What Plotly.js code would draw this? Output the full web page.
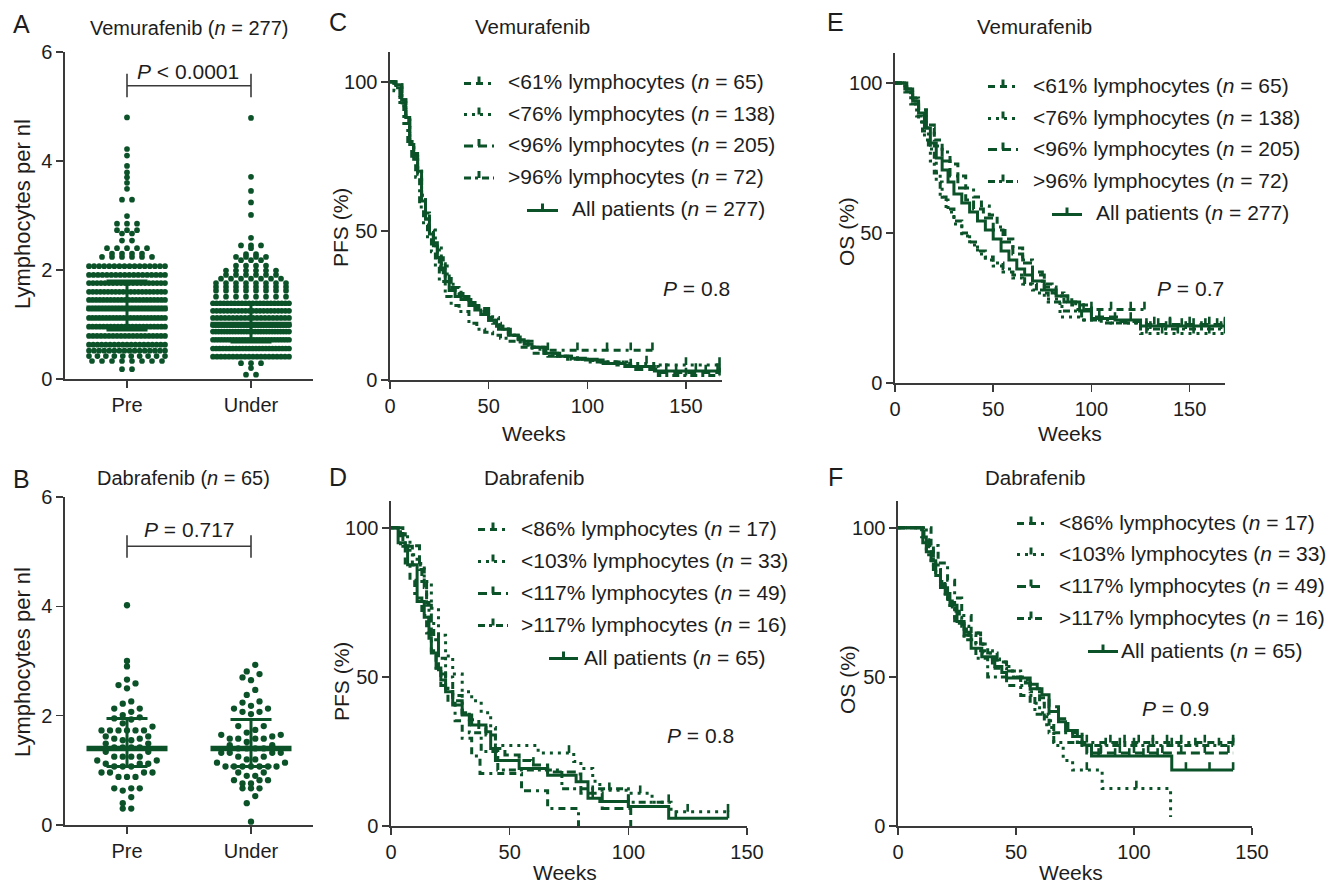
<!DOCTYPE html>
<html><head><meta charset="utf-8">
<script src="https://cdn.plot.ly/plotly-3.0.1.min.js"></script>
<style>html,body{margin:0;padding:0;background:#fff}#chart{width:1330px;height:885px}</style>
</head><body><div id="chart"></div>
<script>
// ---------------- DATA ----------------
const groups = ['Pre', 'Under'];

// Panel A: Vemurafenib (n = 277) – lymphocytes per nl, read as row levels and dot counts
const vemPreLevels  = [4.80,4.22,4.10,3.91,3.79,3.70,3.60,3.49,3.29,2.99,2.85,2.73,2.67,2.54,2.40,2.30,2.24,
                       2.07,1.91,1.76,1.60,1.45,1.29,1.12,0.96,0.79,0.63,0.52,0.42,0.33,0.18];
const vemPreCounts  = [1,1,1,1,1,1,1,1,2,1,3,3,2,2,5,4,6,
                       16,18,20,21,22,24,23,22,20,19,16,10,8,2];
const vemUnderLevels = [4.79,3.71,3.45,3.24,3.01,2.59,2.45,2.40,2.29,2.24,2.18,2.08,1.99,
                        1.91,1.84,1.76,1.69,1.62,1.51,1.39,1.25,1.12,0.99,0.87,0.72,0.56,0.41,0.29,0.20,0.08];
const vemUnderCounts = [1,1,1,1,1,1,3,1,2,4,3,4,6,
                        6,7,8,8,8,8,22,22,20,34,28,27,24,20,3,1,2];
const vemMedian = [1.30, 1.00], vemQ1 = [0.90, 0.68], vemQ3 = [1.80, 1.38];

// Panel B: Dabrafenib (n = 65)
const dabPre = [4.02,3.00,2.90,2.66,2.59,2.56,2.50,2.26,2.22,2.13,2.13,2.07,2.01,1.97,1.95,1.93,1.86,1.80,
                1.73,1.73,1.73,1.73,1.73,1.73,1.62,1.62,1.58,1.58,1.55,1.55,1.49,1.49,1.42,1.42,1.42,1.42,
                1.34,1.34,1.25,1.25,1.25,1.25,1.18,1.18,1.12,1.12,1.12,1.07,1.07,1.07,0.96,0.96,0.96,0.96,
                0.88,0.88,0.88,0.67,0.67,0.67,0.63,0.51,0.40,0.30,0.30];
const dabUnder = [2.93,2.81,2.76,2.70,2.65,2.47,2.38,2.26,2.24,2.18,2.13,2.13,2.07,2.07,2.03,1.81,1.81,1.74,
                  1.69,1.65,1.65,1.62,1.58,1.58,1.58,1.58,1.52,1.46,1.46,1.40,1.40,1.40,1.40,1.32,1.32,1.32,
                  1.32,1.25,1.25,1.20,1.20,1.14,1.14,1.07,1.07,1.07,1.07,1.07,1.07,1.07,0.96,0.96,0.90,0.90,
                  0.82,0.82,0.82,0.76,0.76,0.67,0.67,0.67,0.53,0.40,0.06];
const dabMedian = [1.40, 1.40], dabQ1 = [1.07, 1.07], dabQ3 = [1.95, 1.93];

// Panel C: Vemurafenib PFS (%) vs weeks
const cAllT = [0,3,6,8,10,12,14,16,18,20,22,24,26,28,30,33,36,40,43,46,50,54,57,61,65,68,72,79,85,92,99,108,119,134,167];
const cAllS = [100,99,94,88,79,75,70,60,54,49,46,41,37,33,30,28,27,25,23.5,22,20,18,17,15,13.5,12,11,9,8,7.3,6.7,5.5,4.5,3,3];
const cAllC = [122,140,155,166];
const c61T = [0,2,5,8,10,12,14,16,18,20,22,25,28,31,35,40,45,50,55,60,66,72,78,133];
const c61S = [100,98,93,86,80,76,71,62,55,50,45,39,34,31,28,26,24,21,18,15,13,11,10,10];
const c61C = [80,95,110,122,133];
const c76T = [0,3,6,8,10,12,14,16,18,20,23,26,29,32,36,40,44,48,52,56,60,65,70,76,84,92,100,110,120,135,167];
const c76S = [100,98,93,87,80,75,70,62,56,51,45,39,34,31,28,26,24,22,19,17,15,13,11,9,8,7,6.5,6,5.5,5,5];
const c76C = [130,150,167];
const c96T = [0,3,6,8,10,12,14,16,18,20,22,24,27,30,33,37,41,45,50,55,60,65,70,78,86,95,105,115,122,136,167];
const c96S = [100,99,94,88,79,74,69,60,54,49,46,41,36,31,29,27,25,23,20,17,15,13,11,9,8,7,6,5,3.5,2.5,2.5];
const c96C = [145,160,167];
const cGtT = [0,2,5,7,9,11,13,15,17,19,21,23,25,28,31,35,40,44,48,52,56,60,66,72,80,90,100,120,136,167];
const cGtS = [100,97,92,86,80,75,68,58,52,47,43,38,33,28,25,23,19,17,16,15,14,13,11,9,8,7,6,4.5,1.5,1.5];
const cGtC = [150,167];

// Panel D: Dabrafenib PFS (%)
const dAllT = [0,3,6,7,11,14,16,17,19,21,23,26,30,34,40,42,44,54,66,78,83,88,100,117,142];
const dAllS = [100,95,93.8,87.6,75.3,70,63,58,53,49,45,40.6,37.2,33.9,31.6,26,22,19.3,17,14.8,9.3,8.2,6.5,2.6,2.6];
const dAllC = [85,100,120,142];
const d86T = [0,4,6,8,10,13,15,17,19,21,24,27,30,34,37.5,55,66,79];
const d86S = [100,94.1,88.2,82.4,76.5,70.6,64.7,58.8,52.9,47.1,41.2,35.3,29.4,23.5,17.6,11.8,5.9,0];
const d86C = [];
const d103T = [0,5,8,11,14,17,20,23,26,30,34,38,42,44,62,77,80,85,88,100,110,118,142];
const d103S = [100,97,91,88,82,73,64,57,51,45,42,38,33,27,24.5,21.6,19.3,15,12,11,8,4.8,4.8];
const d103C = [75,92,105,125,142];
const d117T = [0,3,6,12,14,15,17,20,23,26,30,33,37,40,44,48,54,59,66,78,80,89,101];
const d117S = [100,98,94,86,80,74,64,51,46,42,38,35.6,33,30.5,26,23.8,22,20.5,18.1,17.4,11,5.9,0];
const d117C = [60,85];
const dGtT = [0,5,9,13,15,16,18,20,23,26,30,33,38,45,72,100,117];
const dGtS = [100,93.8,87.5,81.3,75,68.8,62.5,56.3,50,43.8,37.5,31.3,25,18.8,12.5,8,8];
const dGtC = [100,117];

// Panel E: Vemurafenib OS (%)
const eAllT = [0,6,9,12,15,18,21,24,27,30,34,38,42,46,50,54,58,62,66,70,76,82,88,94,100,112,125,168];
const eAllS = [100,98,94,90,85,80,75,71,67,63,60,57,54,51,48,44,41,38,36,34,31,29,27,24,21.5,21,19,19];
const eAllC = [96,104,112,120,128,134,140,146,152,158,164,168];
const e61T = [0,5,8,12,16,20,24,28,32,36,40,44,48,52,56,60,65,70,75,80,86,92,127];
const e61S = [100,98,95,91,86,81,77,73,69,65,62,59,56,52,48,45,41,37,33,30,27,24.5,24.5];
const e61C = [100,110,120,127];
const e76T = [0,6,9,12,15,18,21,24,27,30,34,38,42,46,50,55,60,65,70,76,84,95,110,125,168];
const e76S = [100,97,93,87,81,74,67,61,57,53,49,46,43,41,39,37,35,33,31,28,22,21,20,16.5,16.5];
const e76C = [128,136,144,152,160,168];
const e96T = [0,6,9,12,16,20,24,28,32,36,40,45,50,55,60,65,70,76,82,90,100,115,128,168];
const e96S = [100,98,95,91,85,79,74,69,65,61,58,55,51,47,43,40,36,32,29,26,22,20.5,19.5,19.5];
const e96C = [132,140,150,160,168];
const eGtT = [0,5,8,11,14,17,20,23,26,30,34,38,42,46,50,55,60,66,72,78,85,95,105,125,168];
const eGtS = [100,97,93,89,84,78,70,62,58,54,50,47,44,42,40,38,36,33,30,27,24,21,20,18,18];
const eGtC = [130,138,148,156,166];

// Panel F: Dabrafenib OS (%)
const fAllT = [0,10.5,12,14,16,18,20,22,25,28,31,35.5,41,44,46,56,59,61,64,68,71,74,78,82,116,142];
const fAllS = [100,95,92,89,84,81,78,74,68.6,64,59.6,56.8,53.5,51.5,49.6,47.5,46,44,38.4,35,32,30,27.2,23.5,18.8,18.8];
const fAllC = [85,92,98,104,110,122,132,142];
const f86T = [0,14,17,21,24,27,31,35,40,46,56,62,66,142];
const f86S = [100,94.1,88.2,82.4,76.5,70.6,64.7,58.8,52.9,47.1,41.2,35.3,28,28];
const f86C = [80,90,96,102,108,114,120,130,142];
const f103T = [0,10,12,14,16,18,20,22,24,27,30,33,36,40,43,47,52,56,60,63,66,70,74,86.5,115.5];
const f103S = [100,97,91,88,85,82,76,73,70,67,64,61,58,56,55,52,49,45,38,33,27,22,18.8,12.6,3];
const f103C = [80,101];
const f117T = [0,11,13,15,18,21,23,26,29,32,35,38,42,46,50,54,57,60,64,68,72,76,80,142];
const f117S = [100,96,92,86,80,76,72,68,65,64.7,61,58,55,52,50,48,46,43,40,36,32,28,24.5,24.5];
const f117C = [86,94,100,106,112,120,130,140];
const fGtT = [0,12,15,18,21,24,28,33,38,52,58,64,78,142];
const fGtS = [100,93.8,87.5,81.3,75,68.8,62.5,56.3,50,43.8,37.5,31.3,27,27];
const fGtC = [88,94,100,108,116,126,136,142];

// Legend labels
const vemLabels = ['&lt;61% lymphocytes (<i>n</i> = 65)', '&lt;76% lymphocytes (<i>n</i> = 138)',
                   '&lt;96% lymphocytes (<i>n</i> = 205)', '&gt;96% lymphocytes (<i>n</i> = 72)',
                   'All patients (<i>n</i> = 277)'];
const dabLabels = ['&lt;86% lymphocytes (<i>n</i> = 17)', '&lt;103% lymphocytes (<i>n</i> = 33)',
                   '&lt;117% lymphocytes (<i>n</i> = 49)', '&gt;117% lymphocytes (<i>n</i> = 16)',
                   'All patients (<i>n</i> = 65)'];

// ---------------- STYLE ----------------
const W = 1330, H = 885;
const GREEN = '#0b5229';
const INK = '#1d1d1d';
const AXC = '#3a3a3a';
const FONT = '"Liberation Sans", Arial, Helvetica, sans-serif';
const px = v => v / W;
const py = v => 1 - v / H;
const DASHES = ['7px,5px,7px,5px,3px,5px', '3px,5px', '9px,5px', '7px,4px,3px,4px', 'solid'];
const LW = 3;

// ---------------- HELPERS ----------------
function expand(levels, counts) {
  const out = [];
  levels.forEach((v, i) => { for (let k = 0; k < counts[i]; k++) out.push(v); });
  return out;
}
function swarm(values, keyFn, center, spacingPx, maxSpanPx, pxPerUnit) {
  const sorted = values.slice().sort((a, b) => a - b);
  const bins = new Map();
  sorted.forEach(v => { const k = keyFn(v); if (!bins.has(k)) bins.set(k, []); bins.get(k).push(v); });
  const xs = [], ys = [];
  bins.forEach(arr => {
    const n = arr.length;
    const s = n > 1 ? Math.min(spacingPx, maxSpanPx / (n - 1)) : 0;
    const slots = [];
    for (let i = 0; i < n; i++) slots.push(i - (n - 1) / 2);
    slots.sort((a, b) => Math.abs(a) - Math.abs(b) || a - b);
    arr.forEach((v, j) => { xs.push(center + slots[j] * s / pxPerUnit); ys.push(v); });
  });
  return { xs, ys };
}
function stepAt(T, S, t) {
  let v = S[0];
  for (let i = 0; i < T.length; i++) { if (T[i] <= t) v = S[i]; }
  return v;
}

const traces = [];
const PXU = 124; // px per category unit in panels A/B

function dotPanel(pre, under, keyFn, spacing, dot, med, q1, q3, xa, ya) {
  [pre, under].forEach((vals, gi) => {
    const s = swarm(vals, keyFn, gi, spacing, 76, PXU);
    traces.push({ type: 'scatter', mode: 'markers', x: s.xs, y: s.ys, xaxis: xa, yaxis: ya,
      marker: { size: dot, color: GREEN, line: { width: 0 } }, hoverinfo: 'skip', cliponaxis: false });
  });
  const mx = [], my = [], ex = [], ey = [];
  const hw = 40.5 / PXU, cw = 20.5 / PXU;
  med.forEach((m, i) => {
    mx.push(i - hw, i + hw, null); my.push(m, m, null);
    ex.push(i, i, null); ey.push(q1[i], q3[i], null);
    ex.push(i - cw, i + cw, null); ey.push(q1[i], q1[i], null);
    ex.push(i - cw, i + cw, null); ey.push(q3[i], q3[i], null);
  });
  traces.push({ type: 'scatter', mode: 'lines', x: ex, y: ey, xaxis: xa, yaxis: ya,
    line: { color: GREEN, width: 3 }, hoverinfo: 'skip' });
  traces.push({ type: 'scatter', mode: 'lines', x: mx, y: my, xaxis: xa, yaxis: ya,
    line: { color: GREEN, width: 5.5 }, hoverinfo: 'skip' });
}

dotPanel(expand(vemPreLevels, vemPreCounts), expand(vemUnderLevels, vemUnderCounts),
         v => v.toFixed(2), 10, 5.7, vemMedian, vemQ1, vemQ3, 'x', 'y');
dotPanel(dabPre, dabUnder, v => Math.round(v / 0.16), 8.5, 6.3, dabMedian, dabQ1, dabQ3, 'x2', 'y2');

function kmPanel(curves, xa, ya) {
  curves.forEach((c, i) => {
    traces.push({ type: 'scatter', mode: 'lines', x: c[0], y: c[1], xaxis: xa, yaxis: ya,
      line: { shape: 'hv', color: GREEN, width: LW, dash: DASHES[i] }, hoverinfo: 'skip' });
    const cx = [], cy = [];
    c[2].forEach(t => { const s = stepAt(c[0], c[1], t); cx.push(t, t, null); cy.push(s, s + 2.6, null); });
    if (cx.length) traces.push({ type: 'scatter', mode: 'lines', x: cx, y: cy, xaxis: xa, yaxis: ya,
      line: { color: GREEN, width: 2.6 }, hoverinfo: 'skip' });
  });
}
kmPanel([[c61T, c61S, c61C], [c76T, c76S, c76C], [c96T, c96S, c96C], [cGtT, cGtS, cGtC], [cAllT, cAllS, cAllC]], 'x3', 'y3');
kmPanel([[d86T, d86S, d86C], [d103T, d103S, d103C], [d117T, d117S, d117C], [dGtT, dGtS, dGtC], [dAllT, dAllS, dAllC]], 'x4', 'y4');
kmPanel([[e61T, e61S, e61C], [e76T, e76S, e76C], [e96T, e96S, e96C], [eGtT, eGtS, eGtC], [eAllT, eAllS, eAllC]], 'x5', 'y5');
kmPanel([[f86T, f86S, f86C], [f103T, f103S, f103C], [f117T, f117S, f117C], [fGtT, fGtS, fGtC], [fAllT, fAllS, fAllC]], 'x6', 'y6');

// ---------------- LAYOUT ----------------
const axBase = {
  showline: true, linecolor: AXC, linewidth: 1.6, ticks: 'outside', ticklen: 7, tickwidth: 1.6,
  tickcolor: AXC, showgrid: false, zeroline: false, fixedrange: true,
  tickfont: { family: FONT, size: 20, color: INK }
};
const ax = (o) => Object.assign({}, axBase, o);

const layout = {
  width: W, height: H, margin: { l: 0, r: 0, t: 0, b: 0 },
  paper_bgcolor: '#fff', plot_bgcolor: 'rgba(0,0,0,0)', showlegend: false,
  font: { family: FONT, color: INK },
  xaxis:  ax({ domain: [px(65), px(313)], range: [-0.5, 1.5], tickvals: [0, 1], ticktext: groups, anchor: 'y' }),
  yaxis:  ax({ domain: [py(379), py(52)], range: [0, 6], tickvals: [0, 2, 4, 6], anchor: 'x' }),
  xaxis2: ax({ domain: [px(65), px(313)], range: [-0.5, 1.5], tickvals: [0, 1], ticktext: groups, anchor: 'y2' }),
  yaxis2: ax({ domain: [py(825), py(497)], range: [0, 6], tickvals: [0, 2, 4, 6], anchor: 'x2' }),
  xaxis3: ax({ domain: [px(390), px(721.5)], range: [0, 168], tickvals: [0, 50, 100, 150], anchor: 'y3' }),
  yaxis3: ax({ domain: [py(380), py(52)], range: [0, 110], tickvals: [0, 50, 100], anchor: 'x3' }),
  xaxis4: ax({ domain: [px(391), px(747)], range: [0, 150], tickvals: [0, 50, 100, 150], anchor: 'y4' }),
  yaxis4: ax({ domain: [py(826), py(501)], range: [0, 109], tickvals: [0, 50, 100], anchor: 'x4' }),
  xaxis5: ax({ domain: [px(895), px(1225)], range: [0, 168], tickvals: [0, 50, 100, 150], anchor: 'y5' }),
  yaxis5: ax({ domain: [py(383), py(53)], range: [0, 110], tickvals: [0, 50, 100], anchor: 'x5' }),
  xaxis6: ax({ domain: [px(898), px(1252)], range: [0, 150], tickvals: [0, 50, 100, 150], anchor: 'y6' }),
  yaxis6: ax({ domain: [py(826), py(501)], range: [0, 109], tickvals: [0, 50, 100], anchor: 'x6' }),
  shapes: [], annotations: []
};

function ann(text, x, y, o) {
  layout.annotations.push(Object.assign({
    text, x: px(x), y: py(y), xref: 'paper', yref: 'paper', showarrow: false,
    xanchor: 'center', yanchor: 'middle', font: { family: FONT, size: 21, color: INK }
  }, o || {}));
}
function seg(x0, y0, x1, y1, o) {
  layout.shapes.push(Object.assign({ type: 'line', xref: 'paper', yref: 'paper',
    x0: px(x0), y0: py(y0), x1: px(x1), y1: py(y1), line: { color: GREEN, width: 3 } }, o || {}));
}

// Panel letters
[['A', 21, 24], ['B', 21, 479], ['C', 338, 22], ['D', 338, 477], ['E', 835, 22], ['F', 835, 477]]
  .forEach(l => ann(l[0], l[1], l[2], { font: { family: FONT, size: 25, color: INK } }));

// Titles
ann('Vemurafenib (<i>n</i> = 277)', 189, 28, { font: { family: FONT, size: 20, color: INK } });
ann('Dabrafenib (<i>n</i> = 65)', 183, 478, { font: { family: FONT, size: 20, color: INK } });
ann('Vemurafenib', 532, 27, { font: { family: FONT, size: 20.5, color: INK } });
ann('Dabrafenib', 534, 477, { font: { family: FONT, size: 20.5, color: INK } });
ann('Vemurafenib', 1034, 27, { font: { family: FONT, size: 20.5, color: INK } });
ann('Dabrafenib', 1035, 477, { font: { family: FONT, size: 20.5, color: INK } });

// Axis titles
ann('Lymphocytes per nl', 22, 214, { textangle: -90, font: { family: FONT, size: 22, color: INK } });
ann('Lymphocytes per nl', 22, 662, { textangle: -90, font: { family: FONT, size: 22, color: INK } });
ann('PFS (%)', 341, 228, { textangle: -90 });
ann('PFS (%)', 341, 682, { textangle: -90 });
ann('OS (%)', 847, 232, { textangle: -90 });
ann('OS (%)', 847, 680, { textangle: -90 });
ann('Weeks', 534, 433); ann('Weeks', 565, 872); ann('Weeks', 1070, 433); ann('Weeks', 1071, 872);

// P values
ann('<i>P</i> &lt; 0.0001', 188, 71);
ann('<i>P</i> = 0.717', 189, 529);
ann('<i>P</i> = 0.8', 696, 288);
ann('<i>P</i> = 0.8', 700, 735);
ann('<i>P</i> = 0.7', 1190, 288);
ann('<i>P</i> = 0.9', 1175, 708);

// Significance brackets (data coordinates of panels A and B)
function bracket(xr, yr, yLine, yLo, yHi) {
  const base = { type: 'line', xref: xr, yref: yr, line: { color: AXC, width: 1.6 } };
  layout.shapes.push(Object.assign({}, base, { x0: 0, x1: 1, y0: yLine, y1: yLine }));
  layout.shapes.push(Object.assign({}, base, { x0: 0, x1: 0, y0: yLo, y1: yHi }));
  layout.shapes.push(Object.assign({}, base, { x0: 1, x1: 1, y0: yLo, y1: yHi }));
}
bracket('x', 'y', 5.38, 5.17, 5.6);
bracket('x2', 'y2', 5.10, 4.89, 5.30);

// Custom legends
function legend(labels, sx1, sx2, tx, ys, ax1, ax2, atx) {
  labels.forEach((lab, i) => {
    const isAll = i === labels.length - 1;
    const a = isAll ? ax1 : sx1, b = isAll ? ax2 : sx2, t = isAll ? atx : tx;
    const y = ys[i];
    seg(a, y + 1.5, b, y + 1.5, { line: { color: GREEN, width: 3, dash: DASHES[i] } });
    const m = (a + b) / 2;
    seg(m, y + 1.5, m, y - 5.5, { line: { color: GREEN, width: 3 } });
    ann(lab, t, y, { xanchor: 'left' });
  });
}
legend(vemLabels, 464, 494, 506, [82, 113, 144.5, 176.5, 209], 527, 558, 570);
legend(vemLabels, 988, 1018, 1031, [85, 117, 148, 180, 213], 1052, 1082, 1094);
legend(dabLabels, 478, 508, 519, [528, 560, 592, 624, 657], 549, 578, 582);
legend(dabLabels, 1017, 1045, 1057, [522, 553, 585, 617, 650], 1088, 1118, 1119);

Plotly.newPlot('chart', traces, layout, { staticPlot: true, displayModeBar: false });
</script></body></html>
